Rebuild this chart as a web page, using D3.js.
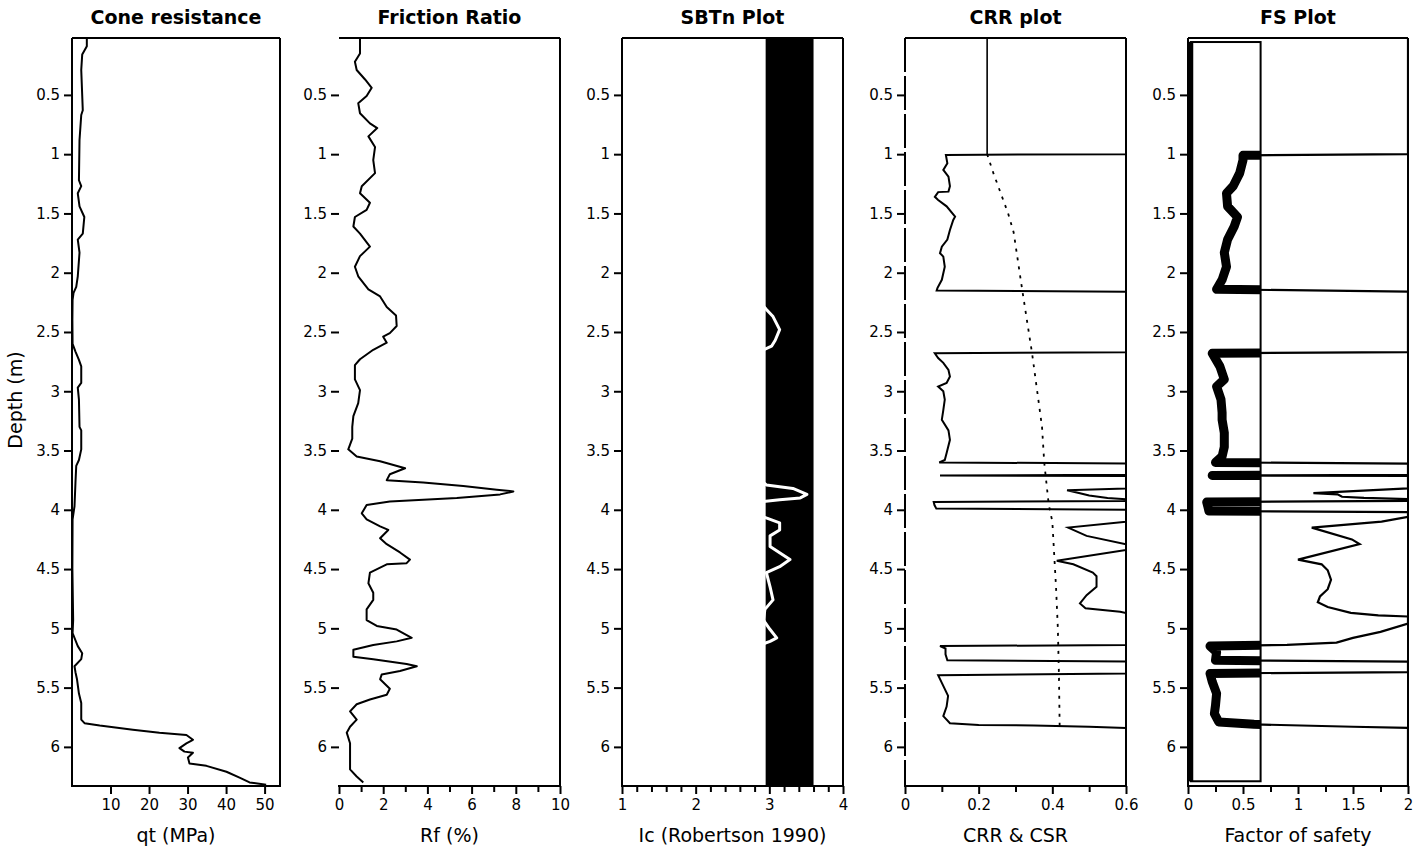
<!DOCTYPE html>
<html><head><meta charset="utf-8">
<script src="https://cdn.jsdelivr.net/npm/d3@7"></script>
<style>
body{margin:0;background:#fff}
svg{display:block}
text{font-family:"DejaVu Sans",sans-serif;fill:#000}
</style></head>
<body><svg id="chart" width="1424" height="850"></svg>
<script>
// ---------------- DATA ----------------
const depthDomain = [0.02, 6.33];
const depthTicks = [0.5,1,1.5,2,2.5,3,3.5,4,4.5,5,5.5,6];

const titles = ["Cone resistance","Friction Ratio","SBTn Plot","CRR plot","FS Plot"];
const axisLabels = ["qt (MPa)","Rf (%)","Ic (Robertson 1990)","CRR & CSR","Factor of safety"];

const qtTicks = [10,20,30,40,50];
const rfTicks = [0,2,4,6,8,10];
const icTicks = [1,2,3,4];
const crrTicks = [0,0.2,0.4,0.6];
const fsTicks = [0,0.5,1,1.5,2];

// [depth (m), qt (MPa)]
const qtProfile = [[0.02,3.85],[0.09,3.85],[0.16,2.65],[0.29,2.4],[0.63,2.8],[0.67,2.4],[0.88,1.95],[1.22,1.8],[1.27,2.4],[1.33,1.5],[1.44,1.95],[1.53,3.2],[1.67,2.8],[1.72,1.5],[1.83,1.95],[2.03,1.5],[2.12,1.1],[2.17,0.4],[2.23,0.15],[2.4,0.1],[2.6,0.15],[2.665,0.9],[2.735,1.8],[2.79,2.4],[2.93,2.4],[2.97,1.5],[3.07,1.8],[3.3,1.95],[3.33,2.4],[3.49,2.4],[3.58,1.8],[3.63,1.1],[3.77,0.9],[3.97,0.65],[4.08,0.15],[4.5,0.1],[4.93,0.3],[5.04,0.15],[5.15,1.5],[5.21,2.65],[5.26,2.4],[5.32,0.65],[5.37,0.9],[5.43,1.3],[5.55,1.8],[5.63,2.4],[5.77,2.4],[5.80,3.25],[5.82,7.2],[5.855,15.8],[5.88,22.7],[5.9,29.7],[5.94,31.4],[5.97,29.7],[6.01,27.9],[6.04,29.2],[6.05,31.4],[6.09,30.1],[6.14,30.5],[6.16,34.9],[6.21,40.1],[6.26,43.5],[6.30,46.1],[6.32,50.4]];

// [depth, Rf (%)]
const rfProfile = [[0.02,0.95],[0.15,0.95],[0.22,0.72],[0.29,0.8],[0.37,1.18],[0.44,1.48],[0.51,1.25],[0.57,0.87],[0.655,0.95],[0.74,1.4],[0.78,1.73],[0.85,1.33],[0.94,1.63],[1.05,1.55],[1.16,1.63],[1.27,1.03],[1.33,0.95],[1.41,1.4],[1.47,1.25],[1.53,0.72],[1.61,0.65],[1.67,0.95],[1.78,1.4],[1.86,0.95],[1.95,0.72],[2.03,0.87],[2.14,1.33],[2.2,1.86],[2.29,2.16],[2.36,2.58],[2.45,2.61],[2.51,2.3],[2.54,2.0],[2.59,2.16],[2.65,1.55],[2.73,0.95],[2.78,0.72],[2.9,0.72],[2.99,0.95],[3.1,0.87],[3.21,0.65],[3.3,0.6],[3.4,0.6],[3.49,0.42],[3.55,0.8],[3.59,1.86],[3.65,2.99],[3.7,2.3],[3.75,2.16],[3.77,3.81],[3.8,5.62],[3.83,7.14],[3.845,7.89],[3.87,7.29],[3.9,5.33],[3.93,2.3],[3.96,1.25],[4.03,1.03],[4.08,1.25],[4.14,1.86],[4.17,2.23],[4.24,1.86],[4.29,2.16],[4.36,2.76],[4.42,3.21],[4.45,3.06],[4.46,2.16],[4.53,1.4],[4.62,1.33],[4.7,1.55],[4.76,1.55],[4.84,1.25],[4.93,1.25],[4.98,1.71],[5.01,2.61],[5.08,3.29],[5.11,2.61],[5.14,1.55],[5.18,0.65],[5.24,0.65],[5.26,1.55],[5.3,3.06],[5.32,3.52],[5.36,2.76],[5.39,1.93],[5.43,1.86],[5.51,2.3],[5.56,2.16],[5.6,1.4],[5.64,0.8],[5.7,0.5],[5.77,0.8],[5.83,0.5],[5.88,0.35],[5.97,0.5],[6.05,0.5],[6.19,0.5],[6.25,0.8],[6.3,1.1]];

// [depth, Ic]
const icProfile = [[0.02,2.6],[0.5,2.75],[1.0,2.8],[1.5,2.85],[2.0,2.85],[2.22,2.86],[2.26,2.89],[2.31,2.96],[2.37,3.05],[2.48,3.14],[2.57,3.08],[2.62,3.03],[2.65,2.92],[2.7,2.86],[3.0,2.88],[3.5,2.86],[3.74,2.88],[3.77,2.92],[3.79,2.96],[3.82,3.32],[3.87,3.51],[3.9,3.42],[3.915,3.14],[3.93,2.92],[3.96,2.86],[4.03,2.88],[4.06,2.92],[4.11,3.14],[4.17,3.14],[4.22,3.01],[4.31,3.01],[4.42,3.28],[4.48,3.14],[4.53,2.96],[4.65,3.01],[4.76,3.05],[4.84,2.94],[4.93,2.92],[5.01,3.01],[5.08,3.10],[5.11,3.01],[5.13,2.92],[5.2,2.86],[5.5,2.8],[5.8,2.75],[5.85,2.2],[5.95,1.9],[6.32,1.6]];
// Robertson SBTn zone boundaries shaded (clay zone)
const sbtZone = [2.95, 3.6];

// [depth, CRR]
const crrProfile = [[0.02,0.6],[1.0,0.6],[1.006,0.111],[1.077,0.115],[1.133,0.104],[1.19,0.118],[1.27,0.122],[1.316,0.118],[1.32,0.09],[1.36,0.081],[1.386,0.09],[1.44,0.113],[1.527,0.136],[1.555,0.131],[1.64,0.122],[1.72,0.115],[1.78,0.1],[1.835,0.095],[1.864,0.104],[1.95,0.108],[2.06,0.1],[2.13,0.088],[2.15,0.086],[2.16,0.6],[2.67,0.6],[2.68,0.081],[2.72,0.09],[2.76,0.104],[2.82,0.118],[2.876,0.122],[2.93,0.113],[2.96,0.09],[3.0,0.104],[3.07,0.108],[3.16,0.104],[3.24,0.1],[3.33,0.118],[3.41,0.122],[3.52,0.113],[3.58,0.108],[3.60,0.093],[3.61,0.6],[3.705,0.6],[3.71,0.095],[3.715,0.6],[3.82,0.6],[3.835,0.44],[3.86,0.475],[3.88,0.5],[3.9,0.55],[3.91,0.6],[3.925,0.6],[3.935,0.078],[3.96,0.08],[3.99,0.085],[4.0,0.6],[4.1,0.6],[4.15,0.443],[4.22,0.493],[4.29,0.6],[4.34,0.6],[4.43,0.412],[4.46,0.457],[4.53,0.51],[4.56,0.52],[4.65,0.52],[4.72,0.493],[4.79,0.475],[4.83,0.49],[4.86,0.584],[4.87,0.6],[5.14,0.6],[5.15,0.095],[5.17,0.11],[5.22,0.11],[5.27,0.115],[5.28,0.6],[5.38,0.6],[5.395,0.09],[5.46,0.1],[5.57,0.117],[5.66,0.113],[5.74,0.104],[5.80,0.122],[5.815,0.2],[5.82,0.35],[5.83,0.5],[5.84,0.6],[6.33,0.6]];

// [depth, CSR]
const csrProfile = [[0.02,0.223],[1.0,0.223],[1.16,0.24],[1.5,0.28],[1.66,0.295],[2.14,0.318],[2.68,0.345],[3.3,0.372],[3.6,0.378],[3.95,0.39],[4.1,0.4],[4.65,0.41],[5.0,0.415],[5.4,0.418],[5.85,0.42]];
const waterTable = 1.0;

// [depth, FS]
const fsProfile = [[0.02,2],[1.0,2],[1.01,0.5],[1.05,0.5],[1.16,0.47],[1.27,0.41],[1.33,0.35],[1.44,0.36],[1.53,0.45],[1.61,0.42],[1.72,0.36],[1.83,0.33],[1.95,0.35],[2.06,0.31],[2.14,0.26],[2.16,2],[2.67,2],[2.68,0.22],[2.79,0.29],[2.9,0.33],[2.96,0.26],[3.07,0.3],[3.18,0.31],[3.24,0.31],[3.35,0.33],[3.47,0.33],[3.55,0.31],[3.60,0.25],[3.61,2],[3.705,2],[3.71,0.22],[3.715,2],[3.82,2],[3.86,1.14],[3.87,1.36],[3.89,1.4],[3.9,1.6],[3.91,2],[3.925,2],[3.935,0.17],[3.97,0.18],[4.01,0.19],[4.02,2],[4.06,2],[4.1,1.76],[4.15,1.125],[4.25,1.49],[4.29,1.56],[4.42,1.0],[4.46,1.215],[4.51,1.27],[4.59,1.3],[4.67,1.27],[4.73,1.2],[4.78,1.18],[4.82,1.27],[4.87,1.48],[4.89,1.73],[4.90,2],[4.96,2],[5.03,1.75],[5.08,1.5],[5.12,1.35],[5.14,0.9],[5.15,0.2],[5.2,0.26],[5.27,0.25],[5.28,2],[5.37,2],[5.38,0.2],[5.45,0.22],[5.55,0.26],[5.65,0.25],[5.72,0.24],[5.79,0.28],[5.81,0.6],[5.83,1.5],[5.84,2],[6.33,2]];
// low factor-of-safety box
const fsBoxRange = [0.025, 0.66];
const fsBoxDepth = [0.054, 6.29];

// ---------------- LAYOUT ----------------
const svg = d3.select("#chart");
const plotTop = 38, plotBottom = 786;
const y = d3.scaleLinear().domain(depthDomain).range([plotTop, plotBottom]);
const fmt = d3.format("~g");

const panels = [
  {x0:72,  x1:280,  dom:[0,54],  ticks:qtTicks,  minor:[],                   data:qtProfile},
  {x0:339, x1:560,  dom:[0,10],  ticks:rfTicks,  minor:[1,3,5,7,9],          data:rfProfile, noLeft:true},
  {x0:622, x1:843,  dom:[1,4],   ticks:icTicks,  minor:d3.range(1.2,4,0.2).filter(v=>Math.abs(v-Math.round(v))>0.01), data:icProfile},
  {x0:905, x1:1126, dom:[0,0.6], ticks:crrTicks, minor:[0.1,0.3,0.5],        data:crrProfile, dashLeft:true},
  {x0:1188,x1:1408, dom:[0,2],   ticks:fsTicks,  minor:[0.25,0.75,1.25,1.75],data:fsProfile}
];

panels.forEach((p,i)=>{
  const x = d3.scaleLinear().domain(p.dom).range([p.x0,p.x1]);
  const g = svg.append("g");
  const clipId = "clip"+i;
  svg.append("clipPath").attr("id",clipId).append("rect")
    .attr("x",p.x0).attr("y",plotTop).attr("width",p.x1-p.x0).attr("height",plotBottom-plotTop);
  const line = d3.line().x(d=>x(d[1])).y(d=>y(d[0]));
  const plot = g.append("g").attr("clip-path",`url(#${clipId})`);

  if(i===2){
    plot.append("rect").attr("x",x(sbtZone[0])).attr("width",x(sbtZone[1])-x(sbtZone[0]))
      .attr("y",y(depthDomain[0])).attr("height",y(depthDomain[1])-y(depthDomain[0])).attr("fill","#000");
    plot.append("path").datum(p.data).attr("d",line).attr("fill","none")
      .attr("stroke","#fff").attr("stroke-width",3).attr("stroke-linejoin","round");
  } else if(i===3){
    plot.append("path").datum(p.data).attr("d",line).attr("fill","none")
      .attr("stroke","#000").attr("stroke-width",2);
    plot.append("path").datum(csrProfile.filter(d=>d[0]<=waterTable)).attr("d",line)
      .attr("fill","none").attr("stroke","#000").attr("stroke-width",1.6);
    plot.append("path").datum(csrProfile.filter(d=>d[0]>=waterTable)).attr("d",line)
      .attr("fill","none").attr("stroke","#000").attr("stroke-width",1.8).attr("stroke-dasharray","3,6");
  } else if(i===4){
    const bx0 = x(fsBoxRange[0]), bx1 = x(fsBoxRange[1]);
    const by0 = y(fsBoxDepth[0]), by1 = y(fsBoxDepth[1]);
    svg.append("clipPath").attr("id","fsbox").append("rect")
      .attr("x",bx0).attr("y",by0).attr("width",bx1-bx0).attr("height",by1-by0);
    plot.append("path").datum(p.data).attr("d",line).attr("fill","none")
      .attr("stroke","#000").attr("stroke-width",2.2);
    plot.append("g").attr("clip-path","url(#fsbox)").append("path").datum(p.data).attr("d",line)
      .attr("fill","none").attr("stroke","#000").attr("stroke-width",9).attr("stroke-linejoin","round");
    plot.append("rect").attr("x",bx0).attr("y",by0).attr("width",bx1-bx0).attr("height",by1-by0)
      .attr("fill","none").attr("stroke","#000").attr("stroke-width",2);
    g.append("line").attr("x1",bx0).attr("x2",bx0).attr("y1",by0).attr("y2",by1)
      .attr("stroke","#000").attr("stroke-width",5);
  } else {
    plot.append("path").datum(p.data).attr("d",line).attr("fill","none")
      .attr("stroke","#000").attr("stroke-width",2).attr("stroke-linejoin","round");
  }

  // frame
  const fr = g.append("g").attr("stroke","#000").attr("stroke-width",2).attr("fill","none");
  fr.append("line").attr("x1",p.x0).attr("x2",p.x1).attr("y1",plotTop).attr("y2",plotTop);
  fr.append("line").attr("x1",p.x1).attr("x2",p.x1).attr("y1",plotTop).attr("y2",plotBottom);
  fr.append("line").attr("x1",p.x0-1).attr("x2",p.x1+1).attr("y1",plotBottom).attr("y2",plotBottom);
  if(!p.noLeft){
    const l = fr.append("line").attr("x1",p.x0).attr("x2",p.x0).attr("y1",plotTop).attr("y2",plotBottom);
    if(p.dashLeft) l.attr("stroke-dasharray","34,4");
  }

  // bottom axis
  const ax = g.append("g").attr("transform",`translate(0,${plotBottom})`)
    .call(d3.axisBottom(x).tickValues(p.ticks).tickFormat(fmt).tickSize(8).tickPadding(5));
  ax.select(".domain").remove();
  ax.selectAll("line").attr("stroke-width",2);
  ax.selectAll("text").style("font-size","15px").style("font-family","DejaVu Sans");
  if(p.minor.length){
    const mx = g.append("g").attr("transform",`translate(0,${plotBottom})`)
      .call(d3.axisBottom(x).tickValues(p.minor).tickFormat("").tickSize(6));
    mx.select(".domain").remove();
    mx.selectAll("line").attr("stroke-width",2);
  }
  // left axis
  const ay = g.append("g").attr("transform",`translate(${p.x0},0)`)
    .call(d3.axisLeft(y).tickValues(depthTicks).tickFormat(fmt).tickSize(8).tickPadding(4));
  ay.select(".domain").remove();
  ay.selectAll("line").attr("stroke-width",2);
  ay.selectAll("text").style("font-size","15px").style("font-family","DejaVu Sans");

  // title & label
  const cx = (p.x0+p.x1)/2;
  svg.append("text").attr("x",cx).attr("y",24).attr("text-anchor","middle")
    .style("font-size","19px").style("font-weight","bold").text(titles[i]);
  svg.append("text").attr("x",cx).attr("y",842).attr("text-anchor","middle")
    .style("font-size","19px").text(axisLabels[i]);
});

svg.append("text").attr("transform","translate(22,400) rotate(-90)")
  .attr("text-anchor","middle").style("font-size","19px").text("Depth (m)");
</script></body></html>
